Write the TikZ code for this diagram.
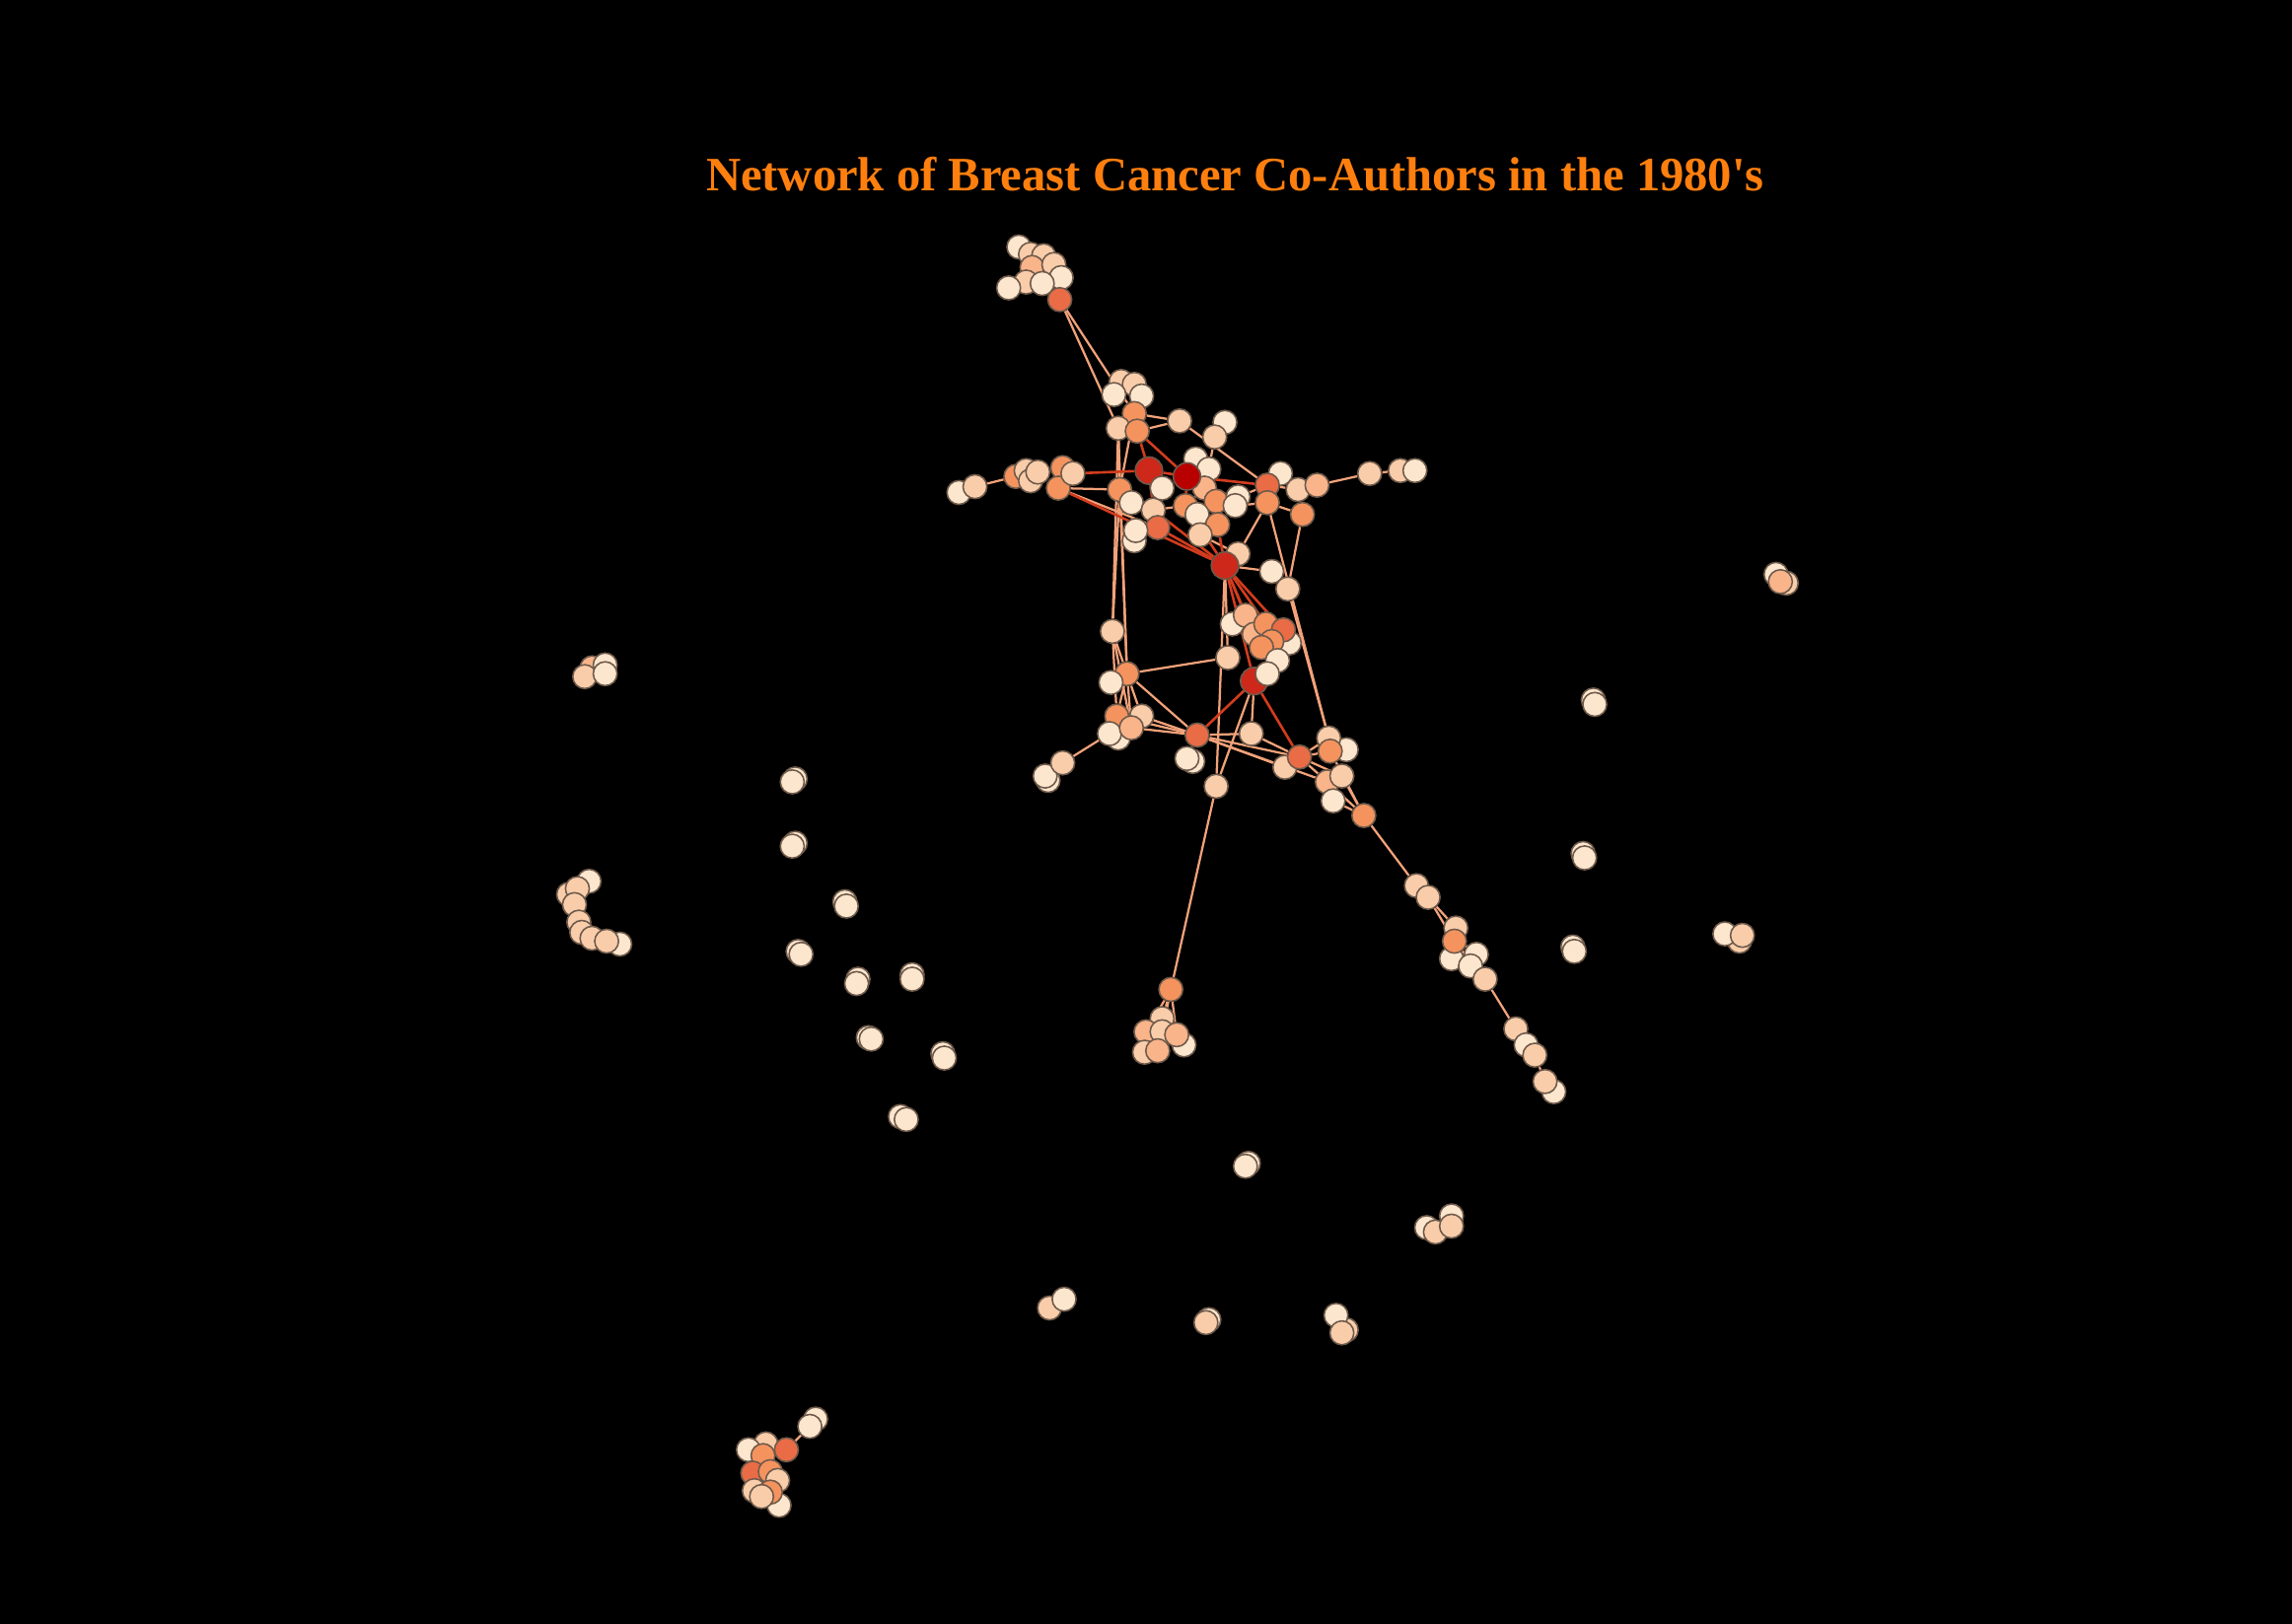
\documentclass[tikz,border=0pt]{standalone}
\usepackage{fontspec}
\usepackage{tikz}
\usetikzlibrary{positioning}
\setmainfont{Liberation Serif}
\definecolor{auCream}{HTML}{FDE6CE}
\definecolor{auPeach}{HTML}{FACDAA}
\definecolor{auSalmon}{HTML}{F9B48A}
\definecolor{auOrange}{HTML}{F5935E}
\definecolor{auDeep}{HTML}{E96C46}
\definecolor{auRed}{HTML}{CD2819}
\definecolor{auDark}{HTML}{B80000}
\definecolor{auRim}{HTML}{6E5A4B}
\definecolor{auLink}{HTML}{F2A27A}
\definecolor{auLinkRed}{HTML}{D23C1E}
\definecolor{auTitle}{HTML}{FF7F0E}
\pgfdeclarelayer{bg}
\pgfdeclarelayer{edges}
\pgfsetlayers{bg,edges,main}
\tikzset{
  au/.style={circle, inner sep=0pt, minimum size=2.45mm, draw=auRim, line width=0.45pt},
  hub/.style={au, minimum size=2.8mm},
  lk/.style={auLink, line width=0.65pt},
  lr/.style={auLinkRed, line width=0.75pt},
  headline/.style={font=\bfseries\fontsize{14pt}{16pt}\selectfont, text=auTitle, inner sep=0pt}
}

\begin{document}
\begin{tikzpicture}[x=0.015cm, y=-0.015cm]
  \begin{pgfonlayer}{bg}
    \fill[black] (0,0) rectangle (1568,1111);
  \end{pgfonlayer}
  \useasboundingbox (0,0) rectangle (1568,1111);

  \node[headline] (head) at (845,119) {Network of Breast Cancer Co-Authors in the 1980\textquotesingle s};

  % main component
  \foreach \n/\x/\y/\s in {
    t1/697/169/auCream, t2/705/174/auPeach, t3/714/175/auPeach, t4/706/183/auSalmon,
    t5/721/181/auPeach, t6/726/190/auCream, t7/702/193/auPeach, t8/713/194/auCream,
    t9/690/197/auCream, t10/725/205/auDeep,
    u1/767/261/auPeach, u2/776/263/auPeach, u3/762/270/auCream, u4/781/271/auCream,
    u5/776/283/auOrange, u6/765/293/auPeach, u7/778/295/auOrange, u8/807/288/auPeach,
    u9/838/289/auCream, u10/831/299/auPeach,
    l1/656/337/auCream, l2/667/333/auPeach, l3/695/326/auOrange, l4/702/322/auPeach,
    l6/705/329/auPeach, l5/710/323/auPeach, l7/727/320/auOrange, l9/724/334/auOrange,
    l8/734/324/auPeach,
    m3/818/314/auCream, m4/827/321/auCream, m5/766/335/auOrange, m7/824/334/auSalmon,
    m11/774/344/auCream, m8/832/343/auOrange, m9/811/346/auOrange, m10/789/349/auPeach,
    m12/819/352/auCream, m13/847/340/auCream, m14/845/346/auCream, m15/833/359/auOrange,
    m16/792/361/auDeep, m18/776/370/auCream, m17/777/363/auCream, m19/821/366/auPeach,
    r2/876/324/auCream, r1/867/332/auDeep, r3/867/344/auOrange, r4/888/335/auPeach,
    r5/901/332/auSalmon, r6/891/352/auOrange, r7/937/324/auPeach, r8/958/322/auPeach,
    r9/968/322/auCream,
    k2/847/379/auPeach, k3/870/391/auCream, k4/881/403/auPeach,
    d1/761/432/auPeach, d2/843/427/auCream, d3/852/421/auSalmon, d6/858/434/auSalmon,
    d4/866/427/auOrange, d8/882/440/auCream, d5/878/431/auDeep, d7/870/439/auOrange,
    d9/863/443/auOrange, d10/840/450/auPeach, d11/874/452/auCream,
    g1/771/461/auOrange, g2/760/467/auCream, g3/764/490/auOrange, g4/781/490/auPeach,
    g6/765/505/auCream, g7/759/502/auCream, g5/774/498/auSalmon,
    g10/717/534/auCream, g9/715/531/auCream, g8/727/522/auPeach,
    h1/819/503/auDeep, h3/816/521/auCream, h2/812/519/auCream, h4/832/538/auPeach,
    h5/856/502/auPeach,
    q2/921/513/auCream, q1/909/505/auPeach, q3/910/514/auOrange, q5/879/525/auPeach,
    q4/889/518/auDeep, q7/908/535/auSalmon, q6/918/531/auPeach, q8/912/548/auCream,
    q9/933/558/auOrange,
    s1/969/606/auPeach, s2/977/614/auPeach, s3/996/635/auPeach, s4/993/656/auCream,
    s5/1010/653/auCream, s6/995/644/auOrange, s7/1006/661/auCream, s8/1016/670/auPeach,
    s9/1037/704/auPeach, s10/1044/715/auCream, s11/1050/722/auPeach,
    s13/1063/747/auCream, s12/1057/740/auPeach,
    p1/801/677/auOrange, p2/795/697/auPeach, p3/784/706/auSalmon, p4/795/706/auPeach,
    p6/810/715/auCream, p5/805/708/auSalmon, p7/783/720/auPeach, p8/792/719/auSalmon}
    \node[au, fill=\s] (\n) at (\x,\y) {};

  \node[hub, fill=auRed] (m1) at (786,322) {};
  \node[hub, fill=auDark] (m2) at (812,326) {};
  \node[au, fill=auCream] (m6) at (795,334) {};
  \node[hub, fill=auRed] (k1) at (838,387) {};
  \node[hub, fill=auRed] (d12) at (858,466) {};
  \node[au, fill=auCream] (d13) at (867,461) {};

  % small components
  \foreach \n/\x/\y/\s in {
    i1/1215/393/auCream, i2/1222/399/auPeach, i3/1218/398/auSalmon,
    i4a/1090/479/auCream, i4/1091/482/auCream, i5a/1083/584/auCream, i5/1084/587/auCream,
    i6a/1076/648/auCream, i6/1077/651/auCream,
    i8/1190/644/auPeach, i7/1180/639/auCream, i9/1192/640/auPeach,
    i10a/854/796/auCream, i10/852/798/auCream,
    i11/976/840/auCream, i13/993/832/auCream, i12/982/843/auPeach, i14/993/839/auPeach,
    i15/718/895/auPeach, i16/728/889/auCream,
    i17/827/903/auCream, i18/825/905/auPeach,
    i20a/921/910/auPeach, i19/914/900/auCream, i20/918/912/auPeach,
    i21/405/457/auSalmon, i22/414/455/auCream, i23/400/463/auPeach, i24/414/461/auCream,
    i25a/544/533/auCream, i25/542/535/auCream, i26a/544/577/auCream, i26/542/579/auCream,
    i27a/578/617/auCream, i27/579/620/auCream, i28a/546/651/auCream, i28/548/653/auCream,
    i29a/587/670/auCream, i29/586/673/auCream, i30a/624/667/auCream, i30/624/670/auCream,
    i31a/594/710/auCream, i31/596/711/auCream, i32a/645/721/auCream, i32/646/724/auCream,
    i33a/616/764/auCream, i33/620/766/auCream,
    a2/389/612/auPeach, a1/403/603/auCream, a3/395/608/auPeach, a4/393/619/auPeach,
    a5/396/631/auPeach, a6/398/638/auPeach, a7/405/642/auPeach, a9/424/646/auCream,
    a8/415/644/auPeach,
    b1/558/971/auCream, b2/554/976/auCream, b3/524/988/auPeach, b4/512/992/auCream,
    b5/538/992/auDeep, b6/522/996/auOrange, b7/515/1008/auDeep, b8/527/1007/auOrange,
    b9/532/1013/auPeach, b10/516/1020/auPeach, b13/533/1030/auCream, b11/527/1021/auOrange,
    b12/521/1024/auPeach}
    \node[au, fill=\s] (\n) at (\x,\y) {};

  \begin{pgfonlayer}{edges}
    \foreach \a/\b in {
      t10/t8, t10/t6, t10/t4, t10/u6, t10/u5, u5/u8, u7/u8, u8/r1, u9/u10, u10/m4,
      u6/d1, u6/g1, m5/g1, m5/d1, u5/m5, u6/m5,
      l1/l2, l2/l3, l3/l5, l7/l9, l9/m5, l9/m16, m5/m10, m10/m9, m9/m7,
      r1/r2, r1/r3, r1/r4, r4/r5, r5/r7, r7/r8, r8/r9, r3/r6, r4/r6,
      r3/k2, r6/k4, k4/q1, r3/q1, m13/r1, m14/r3,
      k1/k2, k1/k3, k1/d10, d10/g1, k1/h4, h4/p1, d12/h4, d12/h5, d12/d13,
      h1/g3, h1/g4, h1/g5, h1/g1, h1/q4, h1/q5, h1/q7, h1/h5, h1/h2, h5/q4,
      g1/g3, g1/g4, g1/g5, d1/g1, d1/g3, d1/g5, g7/g8, g8/g9,
      q4/q1, q4/q3, q4/q6, q4/q7, q3/q9, q6/q9, q7/q9, q8/q9,
      q9/s1, s1/s2, s2/s3, s2/s6, s6/s8, s3/s8, s8/s9, s9/s11, s11/s12,
      p1/p2, p1/p3, p1/p4, p1/p5, b5/b2, m12/m15, m19/k2}
      \draw[lk] (\a) -- (\b);
    \foreach \a/\b in {
      l8/m1, m1/m2, u7/m1, u7/m2, m2/r1, m2/m8, m2/m9, m1/m10,
      m16/k1, m10/k1, m9/k1, m15/k1, l9/k1,
      k1/d3, k1/d4, k1/d5, k1/d6, k1/d12, d12/h1, d12/q4}
      \draw[lr] (\a) -- (\b);
  \end{pgfonlayer}
\end{tikzpicture}
\end{document}
